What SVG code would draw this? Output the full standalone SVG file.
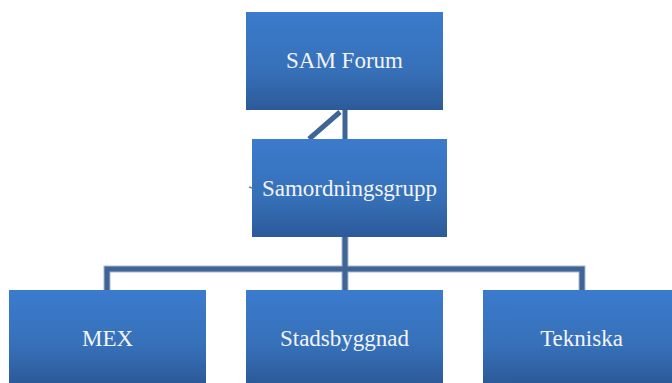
<svg xmlns="http://www.w3.org/2000/svg" width="672" height="383" viewBox="0 0 672 383">
<defs>
<linearGradient id="g" x1="0" y1="0" x2="0" y2="1">
<stop offset="0" stop-color="#3b7bcd"/>
<stop offset="0.6" stop-color="#3670b8"/>
<stop offset="1" stop-color="#2c5a99"/>
</linearGradient>
</defs>
<style>
.box{fill:url(#g);}
.lbl{font-family:'Liberation Serif','DejaVu Serif',serif;font-size:23px;fill:#f2f4f8;text-anchor:middle;}
.con{stroke:#3f6597;stroke-width:5;fill:none;}
.conl{stroke:#a9b8cc;stroke-width:7;fill:none;}
</style>
<rect width="672" height="383" fill="#ffffff"/>
<g id="connectors">
<path class="conl" d="M107,290 V269 H582 V290 M345,237 V290"/>
<path class="con" d="M107,290 V269 H582 V290 M345,237 V290"/>
<path class="con" d="M345,110 V139 M340,112 L309,139"/>
<path d="M249,187 L252,188" stroke="#6a7f9c" stroke-width="1.5"/>
</g>
<g id="sam-forum">
<rect class="box" x="246" y="12" width="197" height="98"/>
<text class="lbl" x="344.5" y="68">SAM Forum</text>
</g>
<g id="samordningsgrupp">
<rect class="box" x="252" y="139" width="195" height="98"/>
<text class="lbl" x="349.5" y="196">Samordningsgrupp</text>
</g>
<g id="mex">
<rect class="box" x="9" y="290" width="197" height="93"/>
<text class="lbl" x="107.5" y="346">MEX</text>
</g>
<g id="stadsbyggnad">
<rect class="box" x="246" y="290" width="197" height="93"/>
<text class="lbl" x="344.5" y="346">Stadsbyggnad</text>
</g>
<g id="tekniska">
<rect class="box" x="483" y="290" width="197" height="93"/>
<text class="lbl" x="581.5" y="346">Tekniska</text>
</g>
</svg>
